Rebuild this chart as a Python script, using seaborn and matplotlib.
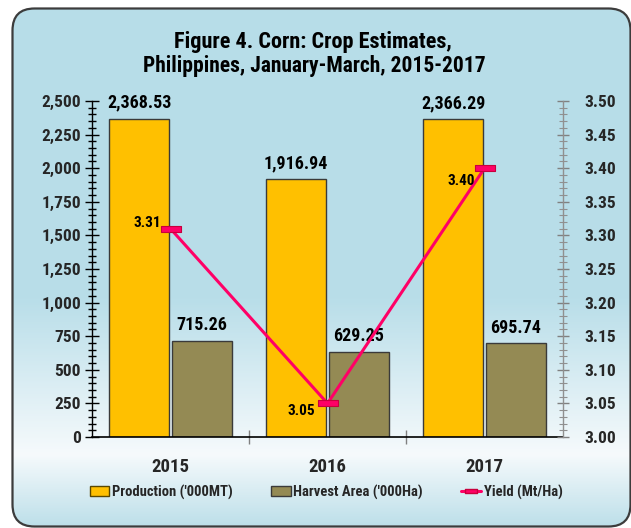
import numpy as np
import pandas as pd
import matplotlib
matplotlib.use('Agg')
import matplotlib.pyplot as plt
import seaborn as sns
from matplotlib.patches import FancyBboxPatch, Patch
from matplotlib.lines import Line2D
from matplotlib.colors import LinearSegmentedColormap
from matplotlib.ticker import MultipleLocator, FuncFormatter, FixedLocator
from matplotlib.path import Path

# ---------------- data ----------------
years = ['2015', '2016', '2017']
production = [2368.53, 1916.94, 2366.29]
harvest_area = [715.26, 629.25, 695.74]
yield_vals = [3.31, 3.05, 3.40]
series_names = ["Production ('000MT)", "Harvest Area ('000Ha)"]
yield_name = "Yield (Mt/Ha)"
title_lines = ["Figure 4. Corn: Crop Estimates,", "Philippines, January-March, 2015-2017"]

# ---------------- style ----------------
sns.set_theme(style='white')
FONT = ['Roboto Condensed', 'DejaVu Sans']
plt.rcParams['font.family'] = FONT
plt.rcParams['font.weight'] = 'bold'

W, H = 631, 528
fig = plt.figure(figsize=(W / 100, H / 100), dpi=100)
fig.patch.set_facecolor('white')

# background panel with gradient
bg = fig.add_axes([0, 0, 1, 1], zorder=-10)
bg.set_xlim(0, W)
bg.set_ylim(H, 0)
bg.axis('off')
stops = [(0, '#B7DDE8'), (300 / H, '#B9DEE9'), (455 / H, '#F6FAFC'), (1, '#BCDFE9')]
cmap = LinearSegmentedColormap.from_list('g', stops)
grad = np.linspace(0, 1, 256).reshape(-1, 1)
im = bg.imshow(grad, cmap=cmap, extent=[0, W, H, 0], aspect='auto', vmin=0, vmax=1)
panel = FancyBboxPatch((12.5, 8.5), 618, 518, boxstyle='round,pad=0,rounding_size=22',
                       facecolor='none', edgecolor='#3c3c3c', lw=1.6)
bg.add_patch(panel)
im.set_clip_path(panel)

# ---------------- main axes ----------------
ax = fig.add_axes([92 / W, 1 - 437 / H, (563 - 92) / W, (437 - 101) / H])
ax.patch.set_alpha(0)

df = pd.DataFrame({
    'Year': years * 2,
    'Value': production + harvest_area,
    'Series': [series_names[0]] * 3 + [series_names[1]] * 3,
})
bar_colors = ['#FFC000', '#948A54']
sns.barplot(data=df, x='Year', y='Value', hue='Series', palette=bar_colors,
            width=0.8, gap=0.05, edgecolor='#3a3a3a', linewidth=1, ax=ax,
            legend=False, saturation=1)

for cont in ax.containers:
    vals = [b.get_height() for b in cont]
    ax.bar_label(cont, labels=[f'{v:,.2f}' for v in vals], padding=5,
                 fontsize=13, fontweight='bold', color='black')

ax.set_ylim(0, 2500)
ax.set_xlim(-0.5, 2.5)
ax.yaxis.set_major_locator(MultipleLocator(250))
ax.yaxis.set_minor_locator(MultipleLocator(50))
ax.yaxis.set_major_formatter(FuncFormatter(lambda v, p: f'{v:,.0f}'))
ax.xaxis.set_minor_locator(FixedLocator([0.5, 1.5]))
ax.set_xlabel('')
ax.set_ylabel('')
ax.tick_params(axis='y', which='major', direction='inout', length=10, width=1,
               color='black', labelsize=12.5, pad=3, left=True)
ax.tick_params(axis='y', which='minor', direction='inout', length=6, width=1,
               color='black', left=True)
ax.tick_params(axis='x', which='major', length=0, labelsize=13.5, pad=15)
ax.tick_params(axis='x', which='minor', direction='inout', length=10, width=1,
               color='#808080', bottom=True)
for lab in ax.get_xticklabels() + ax.get_yticklabels():
    lab.set_fontweight('bold')
for s in ['top', 'right']:
    ax.spines[s].set_visible(False)
ax.spines['left'].set_color('black')
ax.spines['bottom'].set_color('black')
ax.spines['left'].set_linewidth(1)
ax.spines['bottom'].set_linewidth(1.2)
ax.grid(False)

# ---------------- yield on secondary axis ----------------
ax2 = ax.twinx()
ax2.patch.set_alpha(0)
rect = Path([(-1.6, -0.5), (1.6, -0.5), (1.6, 0.5), (-1.6, 0.5), (-1.6, -0.5)],
            [Path.MOVETO, Path.LINETO, Path.LINETO, Path.LINETO, Path.CLOSEPOLY])
line_color = '#FF0066'
sns.lineplot(x=[0, 1, 2], y=yield_vals, ax=ax2, color=line_color, lw=2.2,
             marker=rect, markersize=15, markerfacecolor=line_color,
             markeredgecolor='#C8003C', markeredgewidth=0.8, sort=False, legend=False)
ax2.set_ylim(3.0, 3.5)
ax.set_xlim(-0.5, 2.5)
ax2.set_xlim(-0.5, 2.5)
ax2.yaxis.set_major_locator(MultipleLocator(0.05))
ax2.yaxis.set_minor_locator(MultipleLocator(0.01))
ax2.yaxis.set_major_formatter(FuncFormatter(lambda v, p: f'{v:.2f}'))
ax2.tick_params(axis='y', which='major', direction='inout', length=9, width=1,
                color='#808080', labelsize=12.5, pad=11, right=True)
ax2.tick_params(axis='y', which='minor', direction='inout', length=6, width=0.8,
                color='#909090', right=True)
for lab in ax2.get_yticklabels():
    lab.set_fontweight('bold')
ax2.set_ylabel('')
ax2.set_xlabel('')
for s in ['top', 'left', 'bottom']:
    ax2.spines[s].set_visible(False)
ax2.spines['right'].set_color('#909090')
ax2.spines['right'].set_linewidth(1)
ax2.grid(False)

label_offsets = [(-9, 6), (-12, -8), (-9, -13)]
for i, v in enumerate(yield_vals):
    ax2.annotate(f'{v:.2f}', xy=(i, v), xytext=label_offsets[i], textcoords='offset pixels',
                 ha='right', va='center', fontsize=11, fontweight='bold', color='black')

# ---------------- title ----------------
fig.text(313 / W, 1 - 42 / H, title_lines[0], ha='center', va='center',
         fontsize=16, fontweight='bold', color='black')
fig.text(314 / W, 1 - 66 / H, title_lines[1], ha='center', va='center',
         fontsize=15.5, fontweight='bold', color='black')

# ---------------- legend ----------------
handles = [
    Patch(facecolor=bar_colors[0], edgecolor='#5a4800', lw=1),
    Patch(facecolor=bar_colors[1], edgecolor='#3a3a3a', lw=1),
    Line2D([0], [0], color=line_color, lw=2.2, marker=rect, markersize=9,
           markerfacecolor=line_color, markeredgecolor='#C8003C'),
]
fig.legend(handles, series_names + [yield_name], loc='center',
           bbox_to_anchor=(326 / W, 1 - 492 / H), ncol=3, frameon=False,
           handlelength=1.35, handleheight=0.65, handletextpad=0.2,
           columnspacing=2.6, prop={'family': FONT, 'weight': 'bold', 'size': 10.5})

fig.savefig('out.png', dpi=100)
